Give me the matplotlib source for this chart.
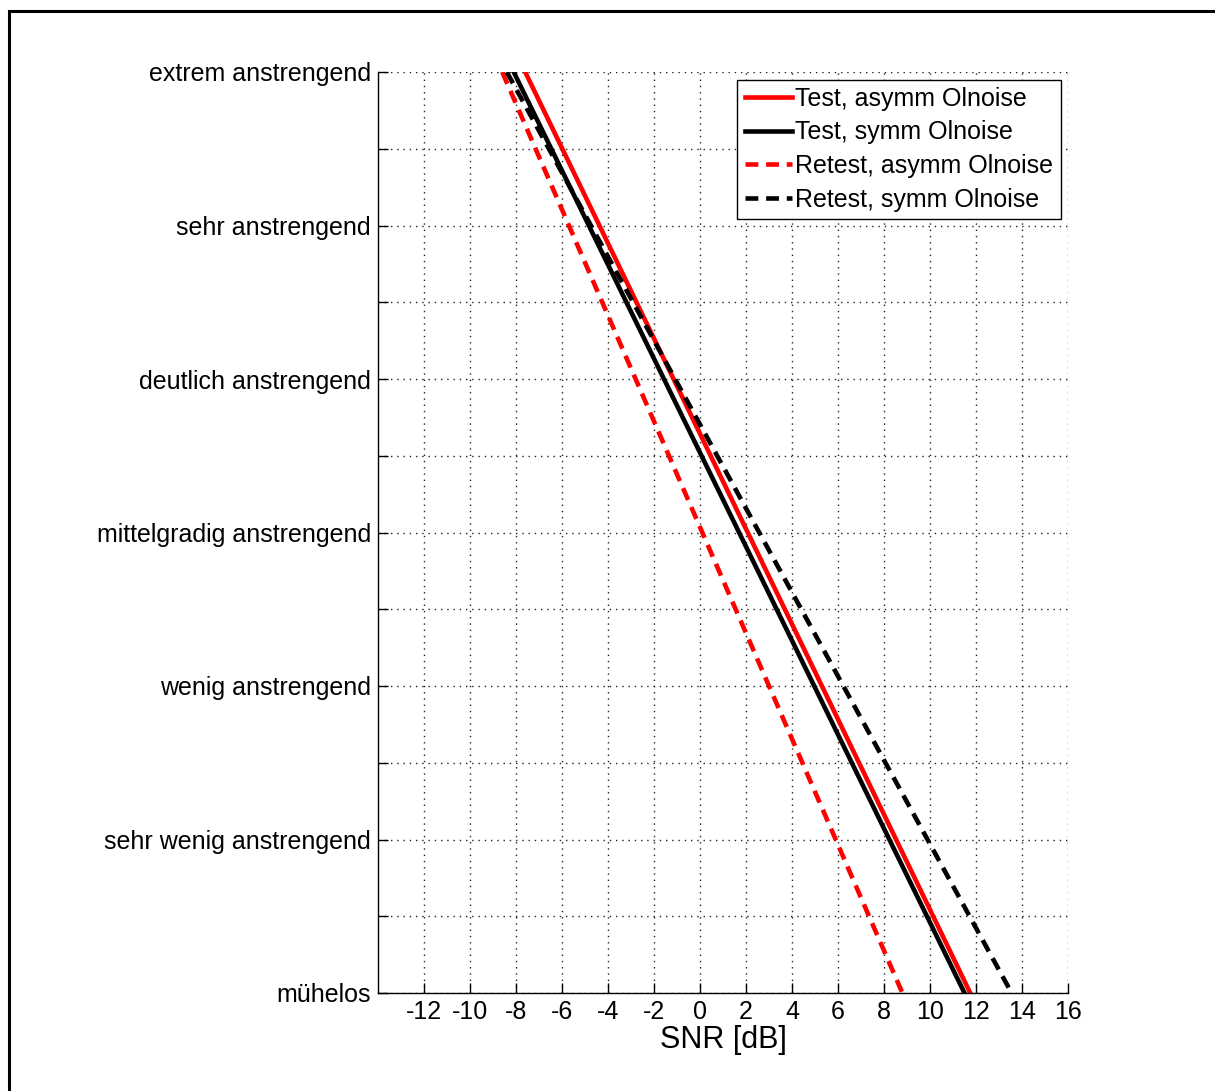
import matplotlib
matplotlib.use("Agg")
import matplotlib.pyplot as plt
from matplotlib.patches import Rectangle

plt.rcParams['font.family'] = ['Liberation Sans', 'DejaVu Sans']

# Effort categories (ESCU scale, labels on odd steps)
effort_levels = [1, 3, 5, 7, 9, 11, 13]
effort_labels = ["mühelos", "sehr wenig anstrengend", "wenig anstrengend",
                 "mittelgradig anstrengend", "deutlich anstrengend",
                 "sehr anstrengend", "extrem anstrengend"]

# Fitted effort functions: SNR at highest and lowest effort
esc_ends = [13, 1]
snr_test_asymm = [-7.6, 11.75]
snr_test_symm = [-8.1, 11.5]
snr_retest_asymm = [-8.6, 8.8]
snr_retest_symm = [-8.4, 13.55]

snr_ticks = list(range(-12, 17, 2))

fig = plt.figure(figsize=(12.15, 10.91), dpi=100)
ax = fig.add_axes([378 / 1215, 1 - 993 / 1091, 690 / 1215, 921 / 1091])

lw = 3.3
dash = (2.8, 1.7)
ax.plot(snr_test_asymm, esc_ends, color="red", lw=lw, label="Test, asymm Olnoise")
ax.plot(snr_test_symm, esc_ends, color="black", lw=lw, label="Test, symm Olnoise")
ax.plot(snr_retest_asymm, esc_ends, color="red", lw=lw, dashes=dash,
        label="Retest, asymm Olnoise")
ax.plot(snr_retest_symm, esc_ends, color="black", lw=lw, dashes=dash,
        label="Retest, symm Olnoise")

ax.set_xlim(-14, 16)
ax.set_ylim(1, 13)
ax.set_xticks(snr_ticks)
ax.set_xticklabels([str(t) for t in snr_ticks])
ax.set_yticks(range(1, 14))
ax.set_yticklabels([effort_labels[effort_levels.index(v)] if v in effort_levels else ""
                    for v in range(1, 14)])
ax.tick_params(direction="in", length=7, width=1, labelsize=18, pad=5)
ax.set_xlabel("SNR [dB]", fontsize=22, labelpad=1)

ax.grid(True, linestyle=(0, (1, 3.5)), color="#222222", lw=1)
for side in ("top", "right"):
    ax.spines[side].set_visible(False)
for side in ("left", "bottom"):
    ax.spines[side].set_linewidth(1)

leg = ax.legend(loc="upper right", fontsize=18, frameon=True, fancybox=False,
                edgecolor="black", framealpha=1, borderaxespad=0.3,
                handlelength=1.9, handletextpad=0.12, labelspacing=0.38,
                borderpad=0.3)
leg.get_frame().set_linewidth(1)

# outer frame around the figure
fig.patches.append(Rectangle((8.5 / 1215, -0.05), 1.2, 1.05 - 10.5 / 1091,
                             transform=fig.transFigure, fill=False,
                             edgecolor="black", lw=2.2))

fig.savefig("out.png", dpi=100)
